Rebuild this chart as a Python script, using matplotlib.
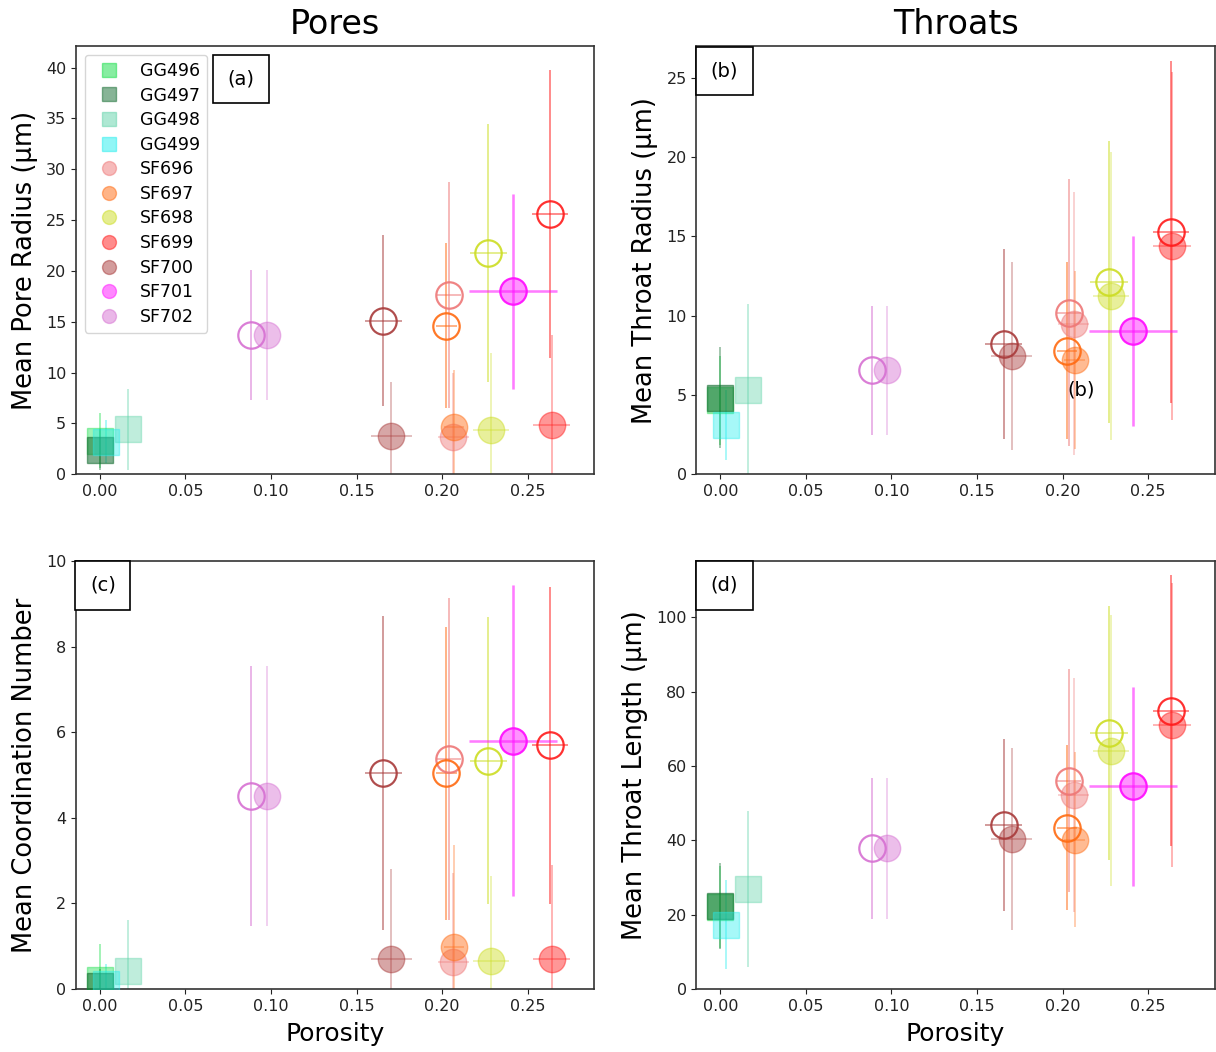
import matplotlib
matplotlib.use('Agg')
import matplotlib.pyplot as plt
from matplotlib.lines import Line2D

# --- samples -------------------------------------------------------------
GG_NAMES = ['GG496', 'GG497', 'GG498', 'GG499']
SF_NAMES = ['SF696', 'SF697', 'SF698', 'SF699', 'SF700', 'SF701', 'SF702']

GG_COLORS = ['#11dd44', '#116b2e', '#5fd3a8', '#22eeee']
SF_COLORS = ['#ee7777', '#ff6a10', '#ccdd22', '#ff1a1a', '#a83a3a', '#ff11ff', '#d670d2']

# porosity of the GG squares
GG_POR = [0.0, 0.0, 0.0163, 0.0035]

# porosity for the two SF estimates (open = first, filled = second)
SF_POR_OPEN = [0.2038, 0.2025, 0.2271, 0.2632, 0.1656, 0.2414, 0.0885]
SF_POR_FILL = [0.2065, 0.2070, 0.2285, 0.2640, 0.1702, 0.2414, 0.0976]
SF_POR_ERR_OPEN = [0.007, 0.006, 0.011, 0.0105, 0.0107, 0.0257, 0.0]
SF_POR_ERR_FILL = [0.009, 0.006, 0.0104, 0.011, 0.012, 0.0257, 0.0]

# (a) mean pore radius
GG_PORE_R = [3.3, 2.4, 4.4, 3.2]
GG_PORE_R_ERR = [2.7, 2.0, 4.0, 2.1]
SF_PORE_R_OPEN = [17.6, 14.6, 21.8, 25.6, 15.1, 18.0, 13.7]
SF_PORE_R_OPEN_ERR = [11.1, 8.1, 12.7, 14.2, 8.4, 9.6, 6.4]
SF_PORE_R_FILL = [3.7, 4.6, 4.3, 4.8, 3.8, 18.0, 13.7]
SF_PORE_R_FILL_ERR = [6.3, 5.6, 7.6, 8.9, 5.3, 9.6, 6.4]

# (b) mean throat radius
GG_THR_R = [4.67, 4.83, 5.32, 3.09]
GG_THR_R_ERR = [2.8, 3.2, 5.4, 2.2]
SF_THR_R_OPEN = [10.2, 7.8, 12.1, 15.26, 8.19, 9.03, 6.55]
SF_THR_R_OPEN_ERR = [8.4, 5.6, 8.9, 10.8, 6.0, 6.0, 4.05]
SF_THR_R_FILL = [9.5, 7.2, 11.24, 14.4, 7.45, 9.03, 6.55]
SF_THR_R_FILL_ERR = [8.3, 5.6, 9.1, 11.0, 5.95, 6.0, 4.05]

# (c) mean coordination number
GG_COORD = [0.20, 0.06, 0.42, 0.12]
GG_COORD_ERR = [0.85, 0.4, 1.18, 0.45]
SF_COORD_OPEN = [5.37, 5.04, 5.33, 5.69, 5.05, 5.8, 4.51]
SF_COORD_OPEN_ERR = [3.77, 3.42, 3.35, 3.7, 3.67, 3.64, 3.04]
SF_COORD_FILL = [0.62, 0.97, 0.64, 0.70, 0.70, 5.8, 4.51]
SF_COORD_FILL_ERR = [2.1, 2.4, 2.0, 2.2, 2.1, 3.64, 3.04]

# (d) mean throat length
GG_THR_L = [22.0, 22.4, 26.8, 17.3]
GG_THR_L_ERR = [11.0, 11.6, 21.0, 12.0]
SF_THR_L_OPEN = [56.0, 43.4, 68.9, 74.9, 44.1, 54.5, 37.8]
SF_THR_L_OPEN_ERR = [30.0, 22.2, 34.1, 36.5, 23.2, 26.9, 19.0]
SF_THR_L_FILL = [52.1, 40.2, 64.1, 71.0, 40.3, 54.5, 37.8]
SF_THR_L_FILL_ERR = [31.5, 23.5, 36.5, 38.3, 24.5, 26.9, 19.0]

MS = 19


def draw_panel(ax, gg, gg_err, sf_open, sf_open_err, sf_fill, sf_fill_err):
    for i, c in enumerate(GG_COLORS):
        ax.errorbar(GG_POR[i], gg[i], yerr=gg_err[i], fmt='none',
                    ecolor=c, elinewidth=1.2, alpha=0.45, zorder=2)
        ax.plot(GG_POR[i], gg[i], 's', color=c, markersize=MS,
                alpha=0.4 if i != 1 else 0.55, zorder=3)
    for i, c in enumerate(SF_COLORS):
        elw = 1.8 if SF_NAMES[i] == 'SF701' else 1.3
        a_open, a_fill = (0.4, 0.25) if SF_NAMES[i] == 'SF701' else (0.55, 0.35)
        ax.errorbar(SF_POR_OPEN[i], sf_open[i], yerr=sf_open_err[i],
                    xerr=SF_POR_ERR_OPEN[i] or None, fmt='none',
                    ecolor=c, elinewidth=elw, alpha=a_open, zorder=2)
        ax.errorbar(SF_POR_FILL[i], sf_fill[i], yerr=sf_fill_err[i],
                    xerr=SF_POR_ERR_FILL[i] or None, fmt='none',
                    ecolor=c, elinewidth=elw, alpha=a_fill, zorder=2)
        ax.plot(SF_POR_OPEN[i], sf_open[i], 'o', markerfacecolor='none',
                markeredgecolor=c, markeredgewidth=1.6, markersize=MS,
                alpha=0.9, zorder=4)
        ax.plot(SF_POR_FILL[i], sf_fill[i], 'o', color=c, markersize=MS,
                alpha=0.45, zorder=3)


def label_box(ax, x, y, txt):
    ax.text(x, y, txt, transform=ax.transAxes, fontsize=14,
            ha='left', va='top', zorder=10,
            bbox=dict(boxstyle='square,pad=0.75', facecolor='white',
                      edgecolor='black', linewidth=1.2))


plt.rcParams.update({
    'font.family': 'DejaVu Sans',
    'xtick.labelsize': 11.5,
    'ytick.labelsize': 11.5,
    'axes.edgecolor': '#333333',
    'axes.linewidth': 1.2,
})

fig, axes = plt.subplots(2, 2, figsize=(12.16, 10.52), dpi=100)
fig.subplots_adjust(left=0.0625, right=0.999, bottom=0.06, top=0.956,
                    wspace=0.197, hspace=0.203)

ax_a, ax_b = axes[0]
ax_c, ax_d = axes[1]

draw_panel(ax_a, GG_PORE_R, GG_PORE_R_ERR, SF_PORE_R_OPEN, SF_PORE_R_OPEN_ERR,
           SF_PORE_R_FILL, SF_PORE_R_FILL_ERR)
draw_panel(ax_b, GG_THR_R, GG_THR_R_ERR, SF_THR_R_OPEN, SF_THR_R_OPEN_ERR,
           SF_THR_R_FILL, SF_THR_R_FILL_ERR)
draw_panel(ax_c, GG_COORD, GG_COORD_ERR, SF_COORD_OPEN, SF_COORD_OPEN_ERR,
           SF_COORD_FILL, SF_COORD_FILL_ERR)
draw_panel(ax_d, GG_THR_L, GG_THR_L_ERR, SF_THR_L_OPEN, SF_THR_L_OPEN_ERR,
           SF_THR_L_FILL, SF_THR_L_FILL_ERR)

for ax in (ax_a, ax_b, ax_c, ax_d):
    ax.set_xlim(-0.014, 0.289)
    ax.set_xticks([0.0, 0.05, 0.10, 0.15, 0.20, 0.25])
    ax.set_xticklabels(['0.00', '0.05', '0.10', '0.15', '0.20', '0.25'])
    ax.tick_params(colors='#222222')

ax_a.set_ylim(0, 42.1)
ax_a.set_yticks(range(0, 41, 5))
ax_b.set_ylim(0, 27.0)
ax_b.set_yticks(range(0, 26, 5))
ax_c.set_ylim(0, 10)
ax_c.set_yticks(range(0, 11, 2))
ax_d.set_ylim(0, 115.2)
ax_d.set_yticks(range(0, 101, 20))

ax_a.set_ylabel('Mean Pore Radius (µm)', fontsize=18.5, labelpad=6)
ax_b.set_ylabel('Mean Throat Radius (µm)', fontsize=18.5, labelpad=6)
ax_c.set_ylabel('Mean Coordination Number', fontsize=18.5, labelpad=6)
ax_d.set_ylabel('Mean Throat Length (µm)', fontsize=18.5, labelpad=6)
ax_c.set_xlabel('Porosity', fontsize=18, labelpad=6)
ax_d.set_xlabel('Porosity', fontsize=18, labelpad=6)

ax_a.set_title('Pores', fontsize=24, pad=9)
ax_b.set_title('Throats', fontsize=24, pad=9)

label_box(ax_a, 0.292, 0.945, '(a)')
label_box(ax_b, 0.027, 0.965, '(b)')
label_box(ax_c, 0.027, 0.965, '(c)')
label_box(ax_d, 0.027, 0.965, '(d)')
ax_b.text(0.2108, 5.3, '(b)', fontsize=14, ha='center', va='center')

handles = []
for name, c in zip(GG_NAMES, GG_COLORS):
    handles.append(Line2D([], [], marker='s', linestyle='none', color=c,
                          alpha=0.5, markersize=10, label=name))
for name, c in zip(SF_NAMES, SF_COLORS):
    handles.append(Line2D([], [], marker='o', linestyle='none', color=c,
                          alpha=0.5, markersize=10, label=name))
ax_a.legend(handles=handles, loc='upper left', fontsize=12.5,
            labelspacing=0.38, numpoints=1)

fig.savefig('out.png', dpi=100)
